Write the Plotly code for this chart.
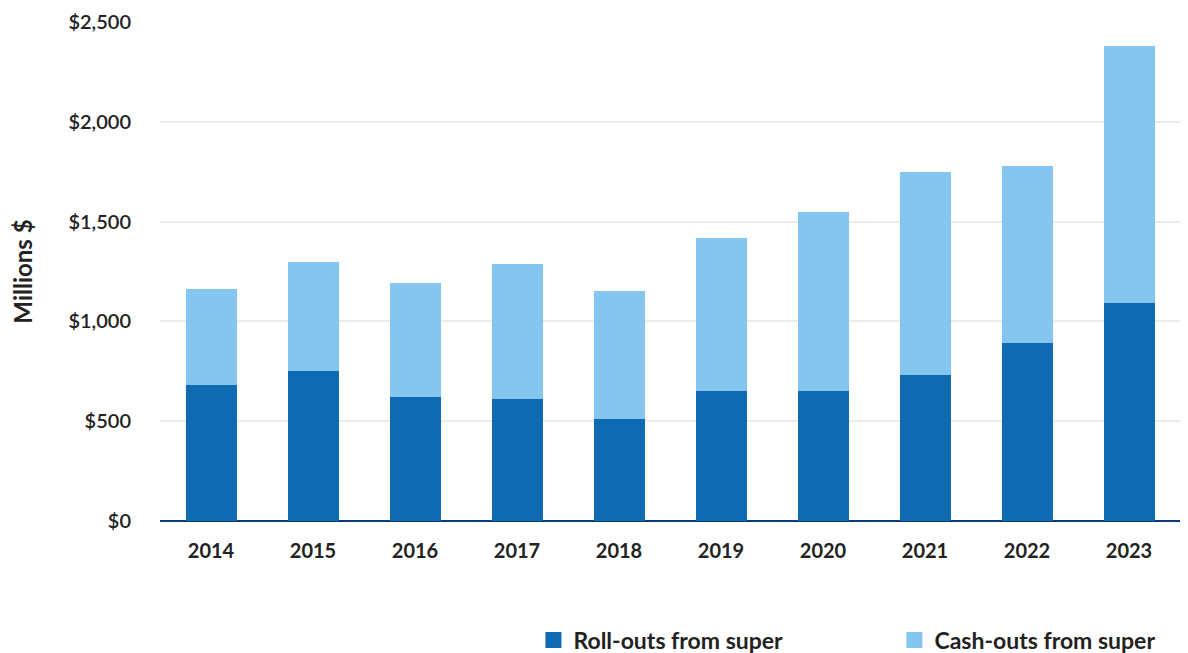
import plotly.graph_objects as go

years = ["2014", "2015", "2016", "2017", "2018", "2019", "2020", "2021", "2022", "2023"]
roll_outs = [680, 750, 620, 610, 510, 650, 650, 730, 890, 1090]
cash_outs = [480, 550, 570, 680, 640, 770, 900, 1020, 890, 1290]

tick_vals = [0, 500, 1000, 1500, 2000, 2500]
tick_text = ["$0", "$500", "$1,000", "$1,500", "$2,000", "$2,500"]

DARK = "#0F6AB1"
LIGHT = "#84C6EF"
TEXT = "#222222"
FONT = "Lato"

fig = go.Figure()
fig.add_trace(go.Bar(x=years, y=roll_outs, name="Roll-outs from super",
                     marker=dict(color=DARK, line=dict(width=0)), showlegend=False))
fig.add_trace(go.Bar(x=years, y=cash_outs, name="Cash-outs from super",
                     marker=dict(color=LIGHT, line=dict(width=0)), showlegend=False))
# legend entries with larger square swatches
fig.add_trace(go.Scatter(x=[None], y=[None], mode="markers", name="Roll-outs from super",
                         marker=dict(symbol="square", size=16, color=DARK)))
fig.add_trace(go.Scatter(x=[None], y=[None], mode="markers", name="Cash-outs from super",
                         marker=dict(symbol="square", size=16, color=LIGHT)))

fig.update_layout(
    barmode="stack",
    bargap=0.5,
    width=1188, height=653,
    margin=dict(l=160, r=8, t=22, b=132, autoexpand=False),
    plot_bgcolor="white", paper_bgcolor="white",
    font=dict(family=FONT, color=TEXT),
    showlegend=True,
    legend=dict(orientation="h", xref="container", yref="container",
                x=0.449, xanchor="left", y=0.02, yanchor="middle",
                font=dict(family=FONT, size=23, color=TEXT, weight="bold"),
                entrywidth=316, entrywidthmode="pixels", traceorder="normal",
                itemsizing="trace"),
    xaxis=dict(type="category", showgrid=False, showline=False, ticks="",
               tickfont=dict(family=FONT, size=20, color=TEXT, weight="bold"),
               ticklabelstandoff=16),
    yaxis=dict(range=[0, 2500], tickvals=tick_vals, ticktext=tick_text,
               showgrid=True, gridcolor="#ECECEC", gridwidth=2,
               zeroline=True, zerolinecolor="#0B3C73", zerolinewidth=2,
               tickfont=dict(family=FONT, size=20, color=TEXT, weight=600),
               ticklabelstandoff=28,
               title=dict(text="Millions $", standoff=28,
                          font=dict(family=FONT, size=24, color=TEXT, weight="bold"))),
)

fig.write_html("out.html")
